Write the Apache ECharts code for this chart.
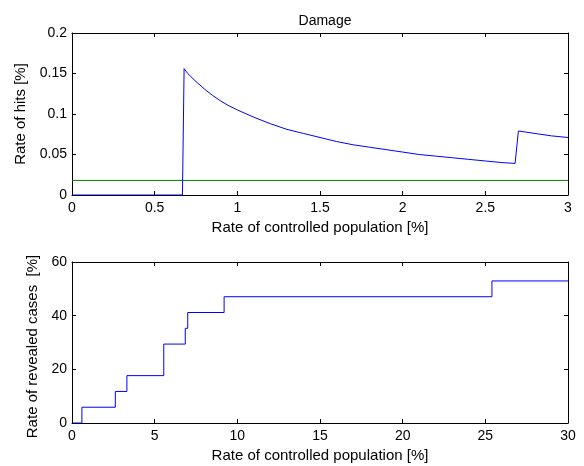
<!DOCTYPE html>
<html><head><meta charset="utf-8">
<script src="https://cdn.jsdelivr.net/npm/echarts@6/dist/echarts.min.js"></script>
<style>html,body{margin:0;padding:0;background:#fff}#c{width:584px;height:466px}</style>
</head><body><div id="c"></div>
<script>
// Top panel: rate of hits vs rate of controlled population
const hitsX = [0, 0.668, 0.678, 0.70, 0.75, 0.80, 0.85, 0.90, 0.95, 1.0, 1.1, 1.2, 1.3, 1.4, 1.5, 1.6, 1.7, 1.8, 1.9, 2.0, 2.1, 2.2, 2.3, 2.4, 2.5, 2.6, 2.68, 2.70, 2.8, 2.9, 3.0];
const hitsY = [0, 0, 0.156, 0.150, 0.140, 0.131, 0.123, 0.116, 0.110, 0.105, 0.096, 0.088, 0.081, 0.076, 0.071, 0.066, 0.062, 0.059, 0.056, 0.053, 0.050, 0.048, 0.046, 0.044, 0.042, 0.040, 0.039, 0.079, 0.076, 0.073, 0.071];
const refX = [0, 3];
const refY = [0.018, 0.018];
// Bottom panel: revealed cases (step)
const casesX = [0, 0.6, 2.62, 3.32, 5.55, 6.85, 7.0, 9.2, 25.4, 30];
const casesY = [0, 5.88, 11.76, 17.65, 29.41, 35.29, 41.18, 47.06, 52.94, 52.94];
// Axis settings
const topXTicks = {min: 0, max: 3, interval: 0.5};
const topYTicks = {min: 0, max: 0.2, interval: 0.05};
const botXTicks = {min: 0, max: 30, interval: 5};
const botYTicks = {min: 0, max: 60, interval: 20};
const title = 'Damage';
const xName = 'Rate of controlled population [%]';
const yNameTop = 'Rate of hits [%]';
const yNameBot = 'Rate of revealed cases  [%]';

const pair = (xs, ys) => xs.map((x, i) => [x, ys[i]]);
const FONT = 'Liberation Sans';
const FS = 14;
const FSN = 15;
const axisLine = {show: true, onZero: false, lineStyle: {color: '#000', width: 1}};
const axisTick = {show: true, inside: true, length: 4, lineStyle: {color: '#000', width: 1}};
const label = {color: '#000', fontFamily: FONT, fontSize: FS};
const nameStyle = {color: '#000', fontFamily: FONT, fontSize: FSN};
function mainX(grid, t) {
  return {type: 'value', gridIndex: grid, position: 'bottom', min: t.min, max: t.max, interval: t.interval,
    axisLine, axisTick, axisLabel: Object.assign({margin: 6}, label), splitLine: {show: false},
    name: xName, nameLocation: 'middle', nameGap: 25, nameTextStyle: nameStyle};
}
function sideX(grid, t) {
  return {type: 'value', gridIndex: grid, position: 'top', min: t.min, max: t.max, interval: t.interval,
    axisLine, axisTick, axisLabel: {show: false}, splitLine: {show: false}};
}
function mainY(grid, t, name, gap, pad) {
  return {type: 'value', gridIndex: grid, position: 'left', min: t.min, max: t.max, interval: t.interval,
    axisLine, axisTick, axisLabel: Object.assign({margin: 5}, label), splitLine: {show: false},
    name, nameLocation: 'middle', nameGap: gap, nameTextStyle: Object.assign({padding: pad}, nameStyle)};
}
function sideY(grid, t) {
  return {type: 'value', gridIndex: grid, position: 'right', min: t.min, max: t.max, interval: t.interval,
    axisLine, axisTick, axisLabel: {show: false}, splitLine: {show: false}};
}
const chart = echarts.init(document.getElementById('c'), null, {renderer: 'canvas'});
chart.setOption({
  animation: false,
  backgroundColor: '#fff',
  title: {text: title, left: 320, top: 9, textAlign: 'center',
    textStyle: {fontFamily: FONT, fontSize: FS, fontWeight: 'normal', color: '#000'}},
  grid: [
    {left: 72, top: 33, width: 496, height: 162},
    {left: 72, top: 262, width: 496, height: 161}
  ],
  xAxis: [mainX(0, topXTicks), sideX(0, topXTicks), mainX(1, botXTicks), sideX(1, botXTicks)],
  yAxis: [mainY(0, topYTicks, yNameTop, 40, 0), sideY(0, topYTicks), mainY(1, botYTicks, yNameBot, 32, [0, 8, 0, 0]), sideY(1, botYTicks)],
  series: [
    {type: 'line', xAxisIndex: 0, yAxisIndex: 0, data: pair(refX, refY), showSymbol: false,
      lineStyle: {color: '#008000', width: 1}, itemStyle: {color: '#008000'}},
    {type: 'line', xAxisIndex: 0, yAxisIndex: 0, data: pair(hitsX, hitsY), showSymbol: false,
      lineStyle: {color: '#0000ff', width: 1}, itemStyle: {color: '#0000ff'}},
    {type: 'line', xAxisIndex: 2, yAxisIndex: 2, data: pair(casesX, casesY), step: 'end', showSymbol: false,
      lineStyle: {color: '#0000ff', width: 1}, itemStyle: {color: '#0000ff'}}
  ]
});
</script></body></html>
